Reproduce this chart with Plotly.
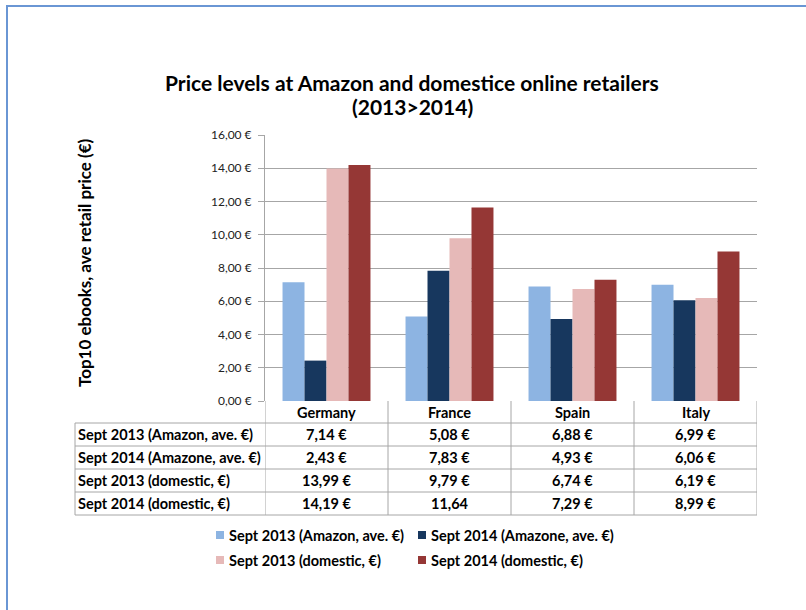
import plotly.graph_objects as go

countries = ["Germany", "France", "Spain", "Italy"]
series_names = [
    "Sept 2013 (Amazon, ave. €)",
    "Sept 2014 (Amazone, ave. €)",
    "Sept 2013 (domestic, €)",
    "Sept 2014 (domestic, €)",
]
amazon_2013 = [7.14, 5.08, 6.88, 6.99]
amazon_2014 = [2.43, 7.83, 4.93, 6.06]
domestic_2013 = [13.99, 9.79, 6.74, 6.19]
domestic_2014 = [14.19, 11.64, 7.29, 8.99]
table_labels = [
    ["7,14 €", "5,08 €", "6,88 €", "6,99 €"],
    ["2,43 €", "7,83 €", "4,93 €", "6,06 €"],
    ["13,99 €", "9,79 €", "6,74 €", "6,19 €"],
    ["14,19 €", "11,64", "7,29 €", "8,99 €"],
]
y_ticks = [0, 2, 4, 6, 8, 10, 12, 14, 16]
y_tick_labels = ["0,00 €", "2,00 €", "4,00 €", "6,00 €", "8,00 €",
                 "10,00 €", "12,00 €", "14,00 €", "16,00 €"]

series_values = [amazon_2013, amazon_2014, domestic_2013, domestic_2014]
colors = ["#8DB4E2", "#17375E", "#E6B9B8", "#953735"]

W, H = 806, 610
L, R, T, B = 265, 49, 135, 209
PW, PH = W - L - R, H - T - B
FONT = "Lato"
GRID = "#A6A6A6"
TSIZE = 14.5


def xp(px):
    return (px - L) / PW


def yp(py):
    return (H - B - py) / PH


fig = go.Figure()
for name, vals, c in zip(series_names, series_values, colors):
    fig.add_trace(go.Bar(x=countries, y=vals, name=name, marker=dict(color=c, line=dict(width=0)),
                         showlegend=False))

shapes = []
annotations = []

row_lines = [423, 446, 469, 492, 515]
left_px = 75
for ry in row_lines:
    shapes.append(dict(type="line", xref="paper", yref="paper", x0=xp(left_px), x1=1,
                       y0=yp(ry), y1=yp(ry), line=dict(color=GRID, width=1)))
for i in range(len(countries) + 1):
    shapes.append(dict(type="line", xref="x", yref="paper", x0=i - 0.5, x1=i - 0.5,
                       y0=0, y1=yp(row_lines[-1]), line=dict(color=GRID, width=1)))
shapes.append(dict(type="line", xref="paper", yref="paper", x0=xp(left_px), x1=xp(left_px),
                   y0=yp(row_lines[0]), y1=yp(row_lines[-1]), line=dict(color=GRID, width=1)))

tfont = dict(family=FONT, size=TSIZE, color="#000000")
for i, c in enumerate(countries):
    annotations.append(dict(x=i, xref="x", y=yp((401 + row_lines[0]) / 2), yref="paper",
                            text="<b>%s</b>" % c, showarrow=False, font=tfont,
                            xanchor="center", yanchor="middle"))
for r, name in enumerate(series_names):
    cy = yp((row_lines[r] + row_lines[r + 1]) / 2)
    annotations.append(dict(x=xp(left_px + 1), xref="paper", y=cy, yref="paper",
                            text="<b>%s</b>" % name, showarrow=False, font=tfont,
                            xanchor="left", yanchor="middle"))
    for i in range(len(countries)):
        annotations.append(dict(x=i, xref="x", y=cy, yref="paper",
                                text="<b>%s</b>" % table_labels[r][i], showarrow=False,
                                font=tfont, xanchor="center", yanchor="middle"))

leg_pos = [(216, 535), (418, 535), (216, 560), (418, 560)]
for (lx, ly), name, c in zip(leg_pos, series_names, colors):
    shapes.append(dict(type="rect", xref="paper", yref="paper", x0=xp(lx), x1=xp(lx + 8),
                       y0=yp(ly - 4), y1=yp(ly + 4), fillcolor=c, line=dict(width=0)))
    annotations.append(dict(x=xp(lx + 11), xref="paper", y=yp(ly), yref="paper",
                            text="<b>%s</b>" % name, showarrow=False, font=tfont,
                            xanchor="left", yanchor="middle"))

tf = dict(family=FONT, size=21, color="#000")
annotations.append(dict(x=xp(412), xref="paper", y=yp(82), yref="paper",
                        text="<b>Price levels at Amazon and domestice online retailers</b>",
                        showarrow=False, font=tf, xanchor="center", yanchor="middle"))
annotations.append(dict(x=xp(412), xref="paper", y=yp(106), yref="paper",
                        text="<b>(2013>2014)</b>",
                        showarrow=False, font=tf, xanchor="center", yanchor="middle"))
annotations.append(dict(x=xp(84), xref="paper", y=yp(263), yref="paper",
                        text="<b>Top10 ebooks, ave retail price (€)</b>", textangle=-90,
                        showarrow=False, font=dict(family=FONT, size=17, color="#000"),
                        xanchor="center", yanchor="middle"))

shapes.append(dict(type="line", xref="paper", yref="paper", x0=xp(7), x1=xp(7),
                   y0=yp(6), y1=yp(612), line=dict(color="#6A96D4", width=2)))
shapes.append(dict(type="line", xref="paper", yref="paper", x0=xp(6), x1=xp(810),
                   y0=yp(6), y1=yp(6), line=dict(color="#6A96D4", width=2)))

fig.update_layout(
    width=W, height=H,
    margin=dict(l=L, r=R, t=T, b=B, pad=0),
    paper_bgcolor="white", plot_bgcolor="white",
    barmode="group", bargap=0.285, bargroupgap=0,
    font=dict(family=FONT, color="#000"),
    xaxis=dict(range=[-0.5, 3.5], showticklabels=False, showline=False, showgrid=False,
               zeroline=False, ticks=""),
    yaxis=dict(range=[0, 16], tickvals=y_ticks, ticktext=y_tick_labels,
               showgrid=True, gridcolor=GRID, gridwidth=1, zeroline=False,
               showline=True, linecolor=GRID, linewidth=1, ticks="outside", ticklen=6,
               tickcolor=GRID, tickfont=dict(family=FONT, size=12, color="#222"),
               ticklabelstandoff=4),
    shapes=shapes, annotations=annotations,
)

fig.write_html("out.html", config={"displayModeBar": False},
               post_script="document.body.style.margin='0px';")
